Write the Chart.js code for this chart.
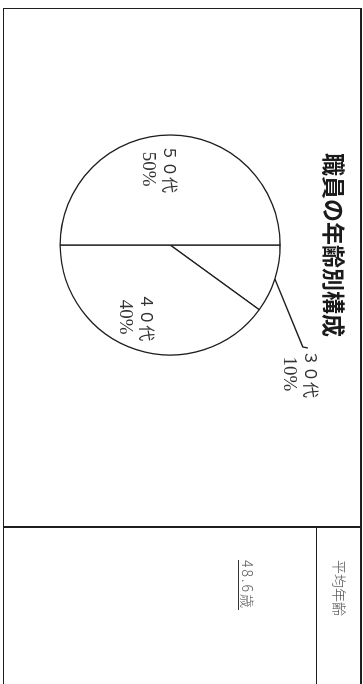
<!DOCTYPE html>
<html lang="ja">
<head>
<meta charset="utf-8">
<script src="https://cdn.jsdelivr.net/npm/chart.js@4"></script>
<style>
  html, body { margin: 0; padding: 0; background: #fff; overflow: hidden; }
  body { width: 363px; height: 684px; position: relative; }
  /* ページ全体を右に90度回転して描く */
  #sheet { position: absolute; left: 0; top: 0; width: 684px; height: 363px;
           transform-origin: 0 0; transform: translate(363px, 0) rotate(90deg); will-change: transform; }
  .line { position: absolute; background: #1e1e1e; }
  #chartBox { position: absolute; left: 0; top: 0; width: 490px; height: 363px; }
  .cell { position: absolute; font-family: "Noto Sans CJK JP", sans-serif; color: #555; white-space: nowrap; }
</style>
</head>
<body>
<div id="sheet">
  <div class="line" style="left:8px; top:1px; width:700px; height:1.5px;"></div>
  <div class="line" style="left:8px; top:358.5px; width:700px; height:1.5px;"></div>
  <div class="line" style="left:7.5px; top:1px; width:1.5px; height:359px;"></div>
  <div class="line" style="left:526px; top:1px; width:1.5px; height:359px;"></div>
  <div class="line" style="left:526px; top:45.5px; width:180px; height:1.5px;"></div>
  <div id="chartBox"><canvas id="graficoIdade"></canvas></div>
  <div class="cell" id="avgHead" style="left:560px; top:14px; font-size:14px; line-height:18px; font-weight:300;"></div>
  <div class="cell" id="avgValue" style="left:560px; top:106px; font-size:14px; line-height:18px; letter-spacing:2px; border-bottom:1.2px solid #333; font-weight:300;"></div>
</div>
<script>
// データ
const titulo = '職員の年齢別構成';
const faixas = ['３０代', '４０代', '５０代'];
const percentuais = [10, 40, 50];
const rotulosPct = ['10%', '40%', '50%'];
const mediaTitulo = '平均年齢';
const mediaValor = '48.6歳';

document.getElementById('avgHead').textContent = mediaTitulo;
document.getElementById('avgValue').textContent = mediaValor;

const fonteFaixa = '16px "Noto Sans CJK JP", sans-serif';
const fontePct = '19px "Liberation Serif", serif';

// ラベル描画（内側は扇形の中、３０代は引出し線つき）
const rotulosPlugin = {
    id: 'rotulos',
    afterDatasetsDraw(chart) {
        const ctx = chart.ctx;
        const arcs = chart.getDatasetMeta(0).data;
        ctx.save();
        ctx.fillStyle = '#333';
        ctx.textBaseline = 'middle';
        ctx.textAlign = 'center';
        const escreve = (i, x, y) => {
            ctx.font = fonteFaixa;
            ctx.fillText(faixas[i], x, y);
            ctx.font = fontePct;
            ctx.fillText(rotulosPct[i], x, y + 22);
        };
        arcs.forEach((arc, i) => {
            const p = arc.getProps(['x', 'y', 'startAngle', 'endAngle', 'outerRadius'], true);
            const mid = (p.startAngle + p.endAngle) / 2;
            if (percentuais[i] >= 20) {
                const lx = p.x + Math.cos(mid) * p.outerRadius * 0.69;
                const ly = p.y + Math.sin(mid) * p.outerRadius * 0.69;
                escreve(i, lx, ly);
            } else {
                const ex = p.x + Math.cos(mid) * p.outerRadius;
                const ey = p.y + Math.sin(mid) * p.outerRadius;
                const kx = ex + 68, ky = ey - 28;
                ctx.strokeStyle = '#1e1e1e';
                ctx.lineWidth = 1.3;
                ctx.beginPath();
                ctx.moveTo(ex, ey);
                ctx.lineTo(kx, ky);
                ctx.lineTo(kx + 1, ky - 5);
                ctx.stroke();
                escreve(i, kx + 27, ky - 8);
            }
        });
        ctx.restore();
    }
};

const ctxIdade = document.getElementById('graficoIdade').getContext('2d');
const graficoIdade = new Chart(ctxIdade, {
    type: 'pie',
    data: {
        labels: faixas,
        datasets: [{
            data: percentuais,
            backgroundColor: '#ffffff',
            borderColor: '#1e1e1e',
            borderWidth: 1.3,
            radius: 110
        }]
    },
    options: {
        responsive: true,
        maintainAspectRatio: false,
        animation: false,
        layout: { padding: { top: 0, bottom: 30, left: 0, right: 0 } },
        plugins: {
            legend: { display: false },
            tooltip: { enabled: false },
            title: {
                display: true,
                text: titulo,
                color: '#1a1a1a',
                font: { family: '"Noto Sans CJK JP", sans-serif', size: 23, weight: 'bold' },
                padding: { top: 15, bottom: 10 }
            }
        }
    },
    plugins: [rotulosPlugin]
});
</script>
</body>
</html>
